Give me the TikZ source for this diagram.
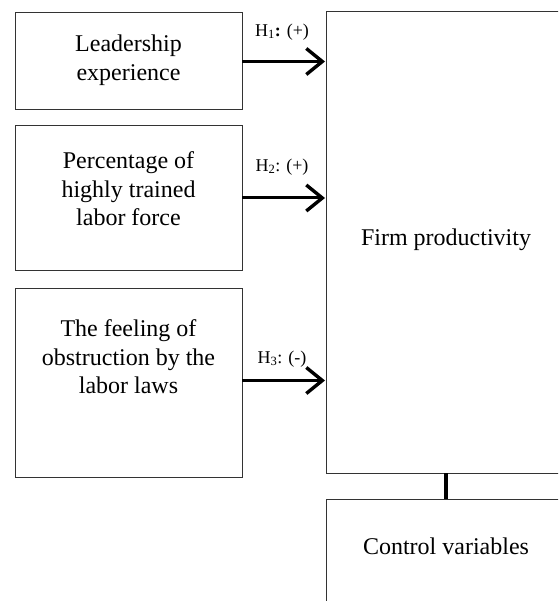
\documentclass[tikz,border=0pt]{standalone}
\usepackage{fontspec}
\setmainfont{Liberation Serif}
\usetikzlibrary{arrows.meta}
\begin{document}
\begin{tikzpicture}[x=1pt,y=-1pt,
  box/.style={draw=black!80, line width=1pt, inner sep=0pt, outer sep=0pt, anchor=north west},
  txt/.style={align=center, font=\fontsize{24}{28.5}\selectfont, inner sep=0pt},
  hlab/.style={font=\fontsize{18}{21}\selectfont, inner sep=0pt},
  arr/.style={line width=3pt, -{Straight Barb[length=16pt,width=26pt,line width=3.4pt]}, shorten >=1pt},
  link/.style={line width=3.2pt}]
\useasboundingbox (0,0) rectangle (558,601);
\clip (0,0) rectangle (558,601);
\node[box, minimum width=227pt, minimum height=97pt] (b1) at (15,13) {};
\node[box, minimum width=227pt, minimum height=144pt] (b2) at (15,126) {};
\node[box, minimum width=227pt, minimum height=189pt] (b3) at (15,288) {};
\node[box, minimum width=240pt, minimum height=461pt] (big) at (326,12) {};
\node[box, minimum width=240pt, minimum height=120pt] (ctrl) at (326,499) {};
\node[txt] (t1) at (128.5,60) {Leadership\\experience};
\node[txt] (t2) at (128.5,189) {Percentage of\\highly trained\\labor force};
\node[txt] (t3) at (128.5,357) {The feeling of\\obstruction by the\\labor laws};
\node[txt] (t4) at (446,240) {Firm productivity};
\node[txt] (t5) at (446,546) {Control variables};
\coordinate (e1) at (b1.east);
\coordinate (e2) at (b2.east);
\coordinate (e3) at ([yshift=2pt]b3.east);
\draw[arr] (e1) -- (big.west |- e1);
\draw[arr] (e2) -- (big.west |- e2);
\draw[arr] (e3) -- (big.west |- e3);
\node[hlab] (h1) at (282,32) {H\textsubscript{1}\textbf{:} (+)};
\node[hlab] (h2) at (282,167) {H\textsubscript{2}: (+)};
\node[hlab] (h3) at (282,359) {H\textsubscript{3}: (-)};
\draw[link] (big.south) -- (ctrl.north);
\end{tikzpicture}
\end{document}
